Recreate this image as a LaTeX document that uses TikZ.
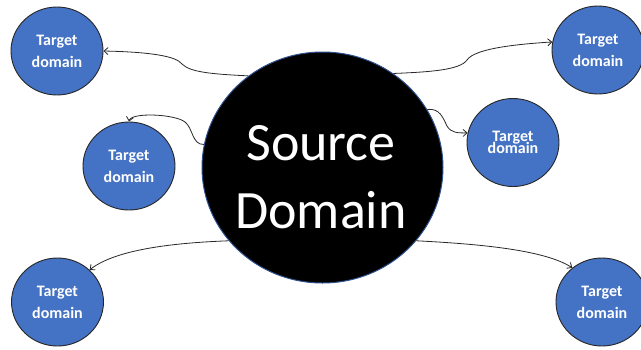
\documentclass[tikz,border=0pt]{standalone}
\usepackage{fontspec}
\setmainfont{Carlito}
\usetikzlibrary{shapes.geometric,arrows.meta}
\definecolor{tgtblue}{RGB}{68,114,196}
\definecolor{rimblue}{RGB}{47,82,143}
\definecolor{linkgray}{RGB}{40,40,40}
\tikzset{
  target/.style={ellipse, fill=tgtblue, draw=black!85, line width=0.9pt,
    minimum width=92pt, minimum height=88pt, inner sep=0pt,
    text=white, align=center, font=\bfseries\fontsize{16}{22}\selectfont},
  source/.style={ellipse, fill=black, draw=rimblue, line width=1pt,
    minimum width=241pt, minimum height=231pt, inner sep=0pt},
  sourcetext/.style={text=white, align=center, inner sep=0pt,
    font=\fontsize{54}{68}\selectfont},
  link/.style={draw=linkgray, line width=0.8pt,
    -{Straight Barb[length=4pt,width=7pt]}}
}
\begin{document}
\begin{tikzpicture}[x=1pt,y=-1pt]
\useasboundingbox (0,0) rectangle (641,349);
\fill[white] (0,0) rectangle (641,349);

% central source domain
\node[source] (src) at (322.5,167.5) {};
\node[sourcetext] (srclabel) at (321,177) {Source\\Domain};

% surrounding target domains
\node[target] (t1) at (57,51) {Target\\domain};
\node[target] (t2) at (129,166) {Target\\domain};
\node[target] (t3) at (598,50) {Target\\domain};
\node[target] (t4) at (513,142.5) {Target\\[-10pt]domain};
\node[target] (t5) at (57.5,302) {Target\\domain};
\node[target] (t6) at (602,302) {Target\\domain};

% connectors from the source to every target
\draw[link] (src.129.5) .. controls (210,74) and (190,72) .. (182,64)
  .. controls (176,56) and (150,52) .. (t1.east);
\draw[link] (src.53.4) .. controls (430,72) and (460,70) .. (467,60)
  .. controls (475,48) and (520,44) .. (t3.170);
\draw[link] (src.169.8) .. controls (192,145) and (193,128) .. (185,122)
  .. controls (175,114) and (131,112) .. (t2.north);
\draw[link] (src.29) .. controls (440,108) and (443,118) .. (447,126)
  .. controls (451,133) and (458,133) .. (t4.168);
\draw[link] (src.218.5) .. controls (170,243) and (115,250) .. (t5.45);
\draw[link] (src.-38.5) .. controls (480,244) and (545,250) .. (t6.131);
\end{tikzpicture}
\end{document}
